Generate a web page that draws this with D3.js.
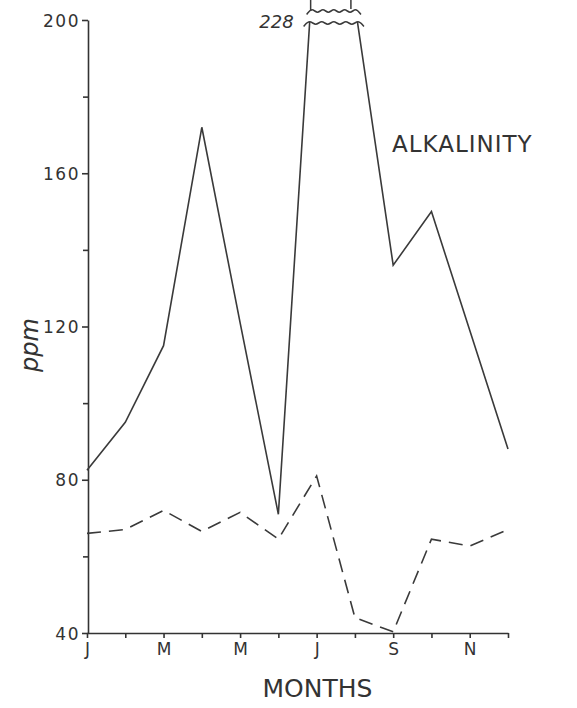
<!DOCTYPE html>
<html>
<head>
<meta charset="utf-8">
<script src="https://cdn.jsdelivr.net/npm/d3@7"></script>
<style>
  body { margin: 0; background: #fff; }
  .chart text { font-family: 'DejaVu Sans', sans-serif; fill: #333; }
  .axis path, .axis line { stroke: #333; stroke-width: 1.6; }
</style>
</head>
<body>
<div class="chart"></div>
<script>
// month index 0..11 (Jan..Dec)
const months = [0, 1, 2, 3, 4, 5, 6, 7, 8, 9, 10, 11];
const monthLabels = ['J', '', 'M', '', 'M', '', 'J', '', 'S', '', 'N', ''];
const alkalinity = [82.5, 95, 115, 172, 121, 71, 228, 204, 136, 150, 119, 88];
const dashedSeries = [66, 67, 72, 66.5, 71.5, 64.5, 81, 44, 40.3, 64.5, 62.7, 67];
const yMajor = [40, 80, 120, 160, 200];
const yMinor = [60, 100, 140, 180];

const width = 577;
const height = 708;

const svg = d3.select('.chart')
  .append('svg')
    .attr('width', width)
    .attr('height', height);

const x = d3.scaleLinear().domain([0, 11]).range([87, 508]);
const y = d3.scaleLinear().domain([40, 200]).range([633, 20]);

// clip so the big July/August peak stops at the 200 line
svg.append('clipPath')
    .attr('id', 'plot-clip')
  .append('rect')
    .attr('x', 0)
    .attr('y', y(200) + 2)
    .attr('width', width)
    .attr('height', height);

// axes
svg.append('g')
    .attr('class', 'axis')
    .attr('transform', `translate(${x(0) + 1}, 0)`)
    .call(d3.axisLeft(y).tickValues(yMajor).tickSize(6).tickSizeOuter(0).tickPadding(2))
    .call(g => g.selectAll('text').style('font-size', '17px').style('letter-spacing', '1.5px').attr('dy', '0.36em'));

svg.append('g')
    .attr('class', 'axis')
    .attr('transform', `translate(${x(0) + 1}, 0)`)
    .call(d3.axisLeft(y).tickValues(yMinor).tickSize(5).tickFormat(''))
    .call(g => g.select('.domain').remove());

svg.append('g')
    .attr('class', 'axis')
    .attr('transform', `translate(0, ${y(40)})`)
    .call(d3.axisBottom(x).tickValues(months).tickSize(5).tickSizeOuter(0)
      .tickFormat((d, i) => monthLabels[i]).tickPadding(5))
    .call(g => g.selectAll('text').style('font-size', '17px'));

const line = d3.line()
  .x((d, i) => x(months[i]))
  .y(d => y(d));

svg.append('path')
    .datum(alkalinity)
    .attr('clip-path', 'url(#plot-clip)')
    .attr('d', line)
    .style('fill', 'none')
    .style('stroke', '#3a3a3a')
    .style('stroke-width', 1.6);

svg.append('path')
    .datum(dashedSeries)
    .attr('d', line)
    .style('fill', 'none')
    .style('stroke', '#3a3a3a')
    .style('stroke-width', 1.6)
    .style('stroke-dasharray', '14,8');

// break marks at the top of the peak
const wave = (x0, x1, yy) => {
  const pts = [];
  const n = 10;
  for (let i = 0; i <= n; i++) {
    pts.push([x0 + (x1 - x0) * i / n, yy + (i % 2 ? -3.5 : 3.5)]);
  }
  return d3.line().curve(d3.curveBasis)(pts);
};
const breakG = svg.append('g')
  .style('fill', 'none')
  .style('stroke', '#3a3a3a')
  .style('stroke-width', 1.5);
breakG.append('path').attr('d', wave(x(6) - 13, x(7) + 9, y(200) + 3));
breakG.append('path').attr('d', wave(x(6) - 10, x(7) + 6, y(200) - 9));
breakG.append('line')
  .attr('x1', x(6) - 6).attr('x2', x(6) - 6)
  .attr('y1', 0).attr('y2', y(200) - 9);
breakG.append('line')
  .attr('x1', x(7) - 4).attr('x2', x(7) - 4)
  .attr('y1', 0).attr('y2', y(200) - 11);

svg.append('text')
    .attr('x', x(6) - 23)
    .attr('y', y(200) + 8)
    .attr('text-anchor', 'end')
    .style('font-size', '18px')
    .style('font-style', 'italic')
    .text('228');

// labels
svg.append('text')
    .attr('x', 392)
    .attr('y', 152)
    .style('font-size', '23px')
    .style('letter-spacing', '1px')
    .text('ALKALINITY');

svg.append('text')
    .attr('x', (x(0) + x(11)) / 2 + 20)
    .attr('y', 697)
    .attr('text-anchor', 'middle')
    .style('font-size', '25px')
    .text('MONTHS');

svg.append('text')
    .attr('transform', 'translate(38, 345) rotate(-90)')
    .attr('text-anchor', 'middle')
    .style('font-size', '24px')
    .style('font-style', 'italic')
    .text('ppm');
</script>
</body>
</html>
